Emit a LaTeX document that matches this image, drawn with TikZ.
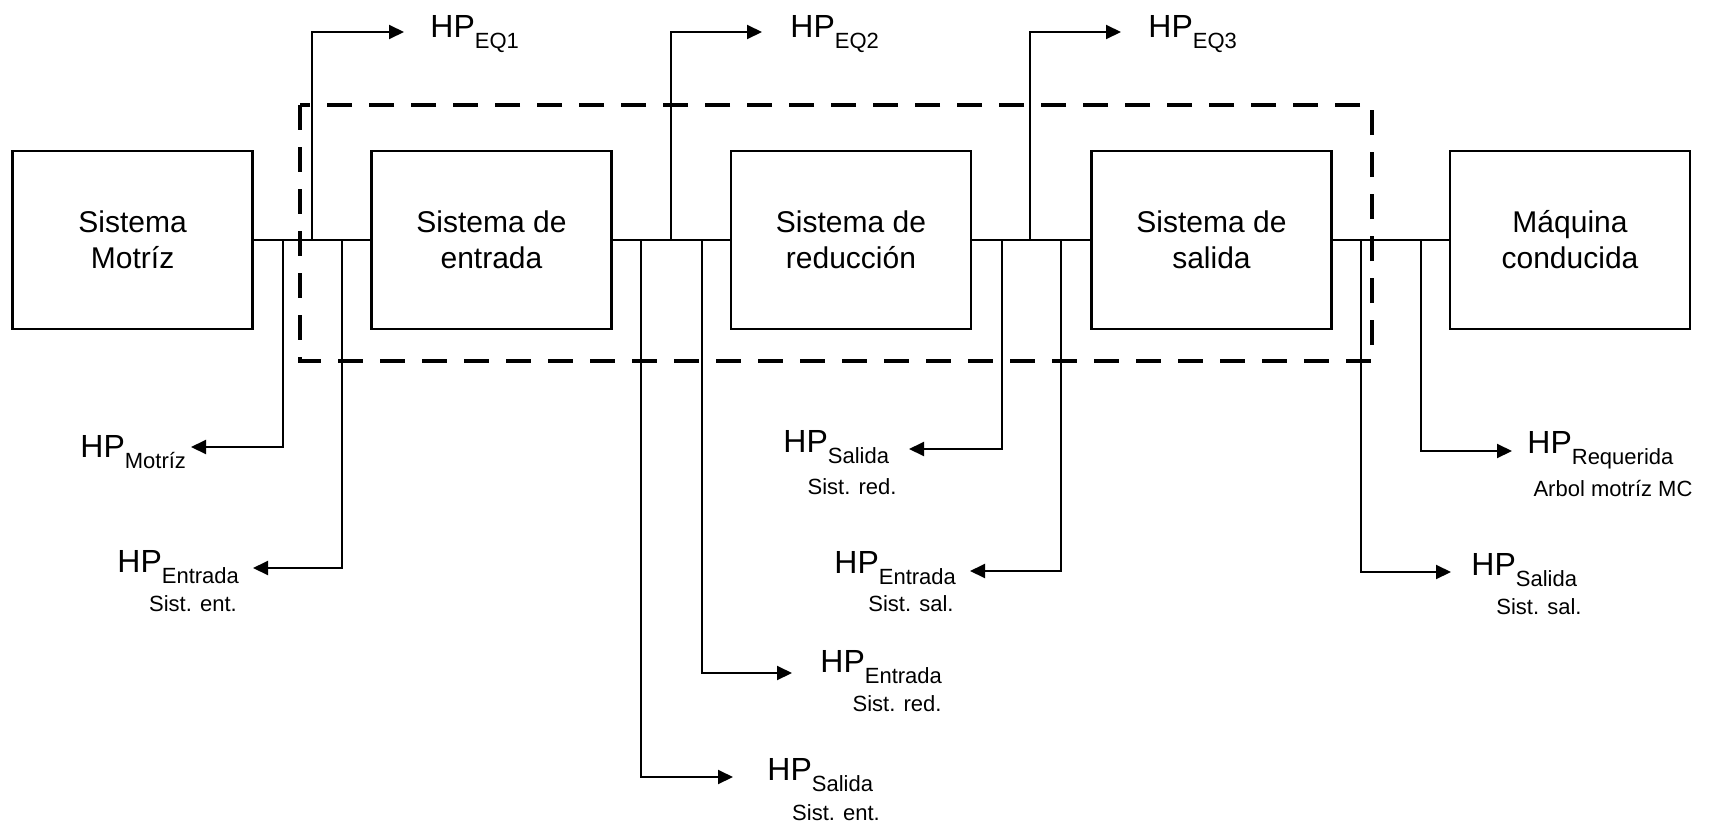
\documentclass[tikz,border=0pt]{standalone}
\usepackage{fontspec}
\setmainfont{Liberation Sans}
\usetikzlibrary{arrows.meta}

\tikzset{
  blk/.style={draw, line width=1.3pt, minimum width=120pt, minimum height=89pt,
    align=center, inner sep=0pt, font=\fontsize{15}{18}\selectfont},
  wire/.style={line width=1pt},
  arr/.style={wire, -{Triangle[length=7.5pt,width=7pt]}},
  hp/.style={anchor=base west, inner sep=0pt, font=\fontsize{16}{19}\selectfont},
  capt/.style={anchor=base, inner sep=0pt, font=\fontsize{11}{13}\selectfont},
  frame/.style={line width=2pt, dash pattern=on 12.5pt off 8.5pt},
}
% power symbol with a lowered subscript
\newcommand{\hpsub}[1]{HP{\fontsize{11}{13}\selectfont\raisebox{-5.5pt}{#1}}}

\begin{document}
\begin{tikzpicture}[x=0.5pt, y=-0.5pt]
\useasboundingbox (0,0) rectangle (1709,825);

% dashed boundary of the transmission
\draw[frame] (300,105) rectangle (1372,361);

% blocks of the drive train
\node[blk] (mot) at (132.6,240) {Sistema\\Motríz};
\node[blk] (ent) at (491.5,240) {Sistema de\\entrada};
\node[blk] (red) at (851,240)   {Sistema de\\reducción};
\node[blk] (sal) at (1211.5,240){Sistema de\\salida};
\node[blk] (maq) at (1570,240)  {Máquina\\conducida};

% shafts between blocks
\draw[wire] (mot.east) -- (ent.west);
\draw[wire] (ent.east) -- (red.west);
\draw[wire] (red.east) -- (sal.west);
\draw[wire] (sal.east) -- (maq.west);

% branch points on the shafts
\coordinate (a1) at (283,240);  \coordinate (a2) at (312,240);  \coordinate (a3) at (342,240);
\coordinate (b1) at (641,240);  \coordinate (b2) at (671,240);  \coordinate (b3) at (702,240);
\coordinate (c1) at (1002,240); \coordinate (c2) at (1030,240); \coordinate (c3) at (1061,240);
\coordinate (d1) at (1361,240); \coordinate (d2) at (1421,240);

% arrow ends
\coordinate (eq1) at (404,32);
\coordinate (eq2) at (762,32);
\coordinate (eq3) at (1121,32);
\coordinate (tmot) at (191,447);
\coordinate (tense) at (253,568);
\coordinate (tsale) at (733,777);
\coordinate (tenre) at (792,673);
\coordinate (tsalr) at (909,449);
\coordinate (tensa) at (970,571);
\coordinate (tsals) at (1451,572);
\coordinate (treq) at (1512,451);

% equivalent powers (upwards)
\draw[arr] (a2) |- (eq1);
\draw[arr] (b2) |- (eq2);
\draw[arr] (c2) |- (eq3);

% powers taken downwards
\draw[arr] (a1) |- (tmot);
\draw[arr] (a3) |- (tense);
\draw[arr] (b1) |- (tsale);
\draw[arr] (b3) |- (tenre);
\draw[arr] (c1) |- (tsalr);
\draw[arr] (c3) |- (tensa);
\draw[arr] (d1) |- (tsals);
\draw[arr] (d2) |- (treq);

% labels
\node[hp] (leq1) at (430,37) {\hpsub{EQ1}};
\node[hp] (leq2) at (790,37) {\hpsub{EQ2}};
\node[hp] (leq3) at (1148,37) {\hpsub{EQ3}};

\node[hp] (lmot) at (80,457) {\hpsub{Motríz}};

\node[hp] (lense) at (117,572) {\hpsub{Entrada}};
\node[capt] (cense) at (193,611) {Sist. ent.};

\node[hp] (lsale) at (767,780) {\hpsub{Salida}};
\node[capt] (csale) at (836,820) {Sist. ent.};

\node[hp] (lenre) at (820,672) {\hpsub{Entrada}};
\node[capt] (cenre) at (897,711) {Sist. red.};

\node[hp] (lsalr) at (783,452) {\hpsub{Salida}};
\node[capt] (csalr) at (852,494) {Sist. red.};

\node[hp] (lensa) at (834,573) {\hpsub{Entrada}};
\node[capt] (censa) at (911,611) {Sist. sal.};

\node[hp] (lsals) at (1471,575) {\hpsub{Salida}};
\node[capt] (csals) at (1539,614) {Sist. sal.};

\node[hp] (lreq) at (1527,453) {\hpsub{Requerida}};
\node[capt] (creq) at (1613,496) {Arbol motríz MC};
\end{tikzpicture}
\end{document}
